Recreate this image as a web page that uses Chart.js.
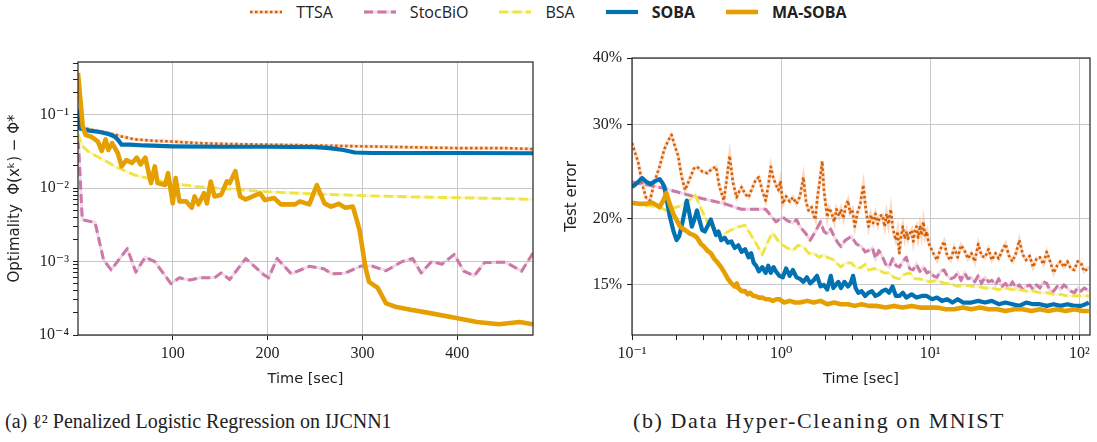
<!DOCTYPE html>
<html>
<head>
<meta charset="utf-8">
<script src="https://cdn.jsdelivr.net/npm/chart.js@4.4.1/dist/chart.umd.min.js"></script>
<style>
  body { margin: 0; background: #fff; width: 1097px; height: 442px; position: relative; overflow: hidden; }
  #c1 { position: absolute; left: 0; top: 30px; }
  #c2 { position: absolute; left: 560px; top: 30px; }
  #legend { position: absolute; top: 0; left: 0; width: 1097px; height: 24px; display: flex;
            justify-content: center; align-items: center; gap: 31px;
            font-family: "Open Sans", sans-serif; font-size: 16px; color: #222; }
  .item { display: flex; align-items: center; }
  .item canvas { margin-right: 14px; }
  .cap { position: absolute; top: 410px; font-family: "Liberation Serif", serif; font-size: 20px;
         color: #222; white-space: nowrap; }
</style>
</head>
<body>
<div id="legend"></div>
<canvas id="c1" width="550" height="362"></canvas>
<canvas id="c2" width="537" height="362"></canvas>
<div class="cap" style="left:5px">(a) ℓ² Penalized Logistic Regression on IJCNN1</div>
<div class="cap" style="left:633px;top:408px;font-size:22px;letter-spacing:1.6px">(b) Data Hyper-Cleaning on MNIST</div>
<script>
// series names, legend order
const names = ['TTSA', 'StocBiO', 'BSA', 'SOBA', 'MA-SOBA'];

// (a) IJCNN1: [time sec, optimality gap]
const ttsaA = [[1,0.078],[4,0.069],[10,0.064],[20,0.060],[30,0.057],[40,0.053],[47,0.050],[60,0.046],
  [80,0.044],[99,0.043],[125,0.041],[150,0.040],[199,0.039],[250,0.038],[299,0.037],[350,0.036],
  [400,0.035],[450,0.035],[480,0.034]];
const stocbioA = [[0,0.045],[1,0.03],[4.5,0.0037],[18,0.0034],[27,0.00105],[35,0.00077],[52,0.0015],
  [61,0.00072],[71,0.00115],[81,0.001],[98,0.0005],[107,0.0006],[118,0.00056],[129,0.0006],[144,0.0006],
  [151,0.0007],[160,0.00057],[177,0.0011],[196,0.00066],[201,0.0006],[210,0.0011],[225,0.00068],
  [244,0.00086],[259,0.0008],[268,0.00068],[281,0.00069],[299,0.00087],[310,0.00087],[325,0.00075],
  [342,0.001],[353,0.0011],[362,0.0007],[373,0.001],[384,0.00092],[397,0.00125],[407,0.00074],
  [418,0.00064],[429,0.00097],[451,0.00098],[468,0.00074],[480,0.0013]];
const bsaA = [[0,0.055],[2,0.045],[5,0.037],[10,0.032],[20,0.027],[30,0.023],[40,0.0195],[50,0.017],
  [60,0.015],[80,0.013],[100,0.0115],[125,0.0105],[150,0.0099],[200,0.0089],[250,0.0083],[300,0.0079],
  [350,0.0076],[400,0.0074],[450,0.0072],[480,0.007]];
const sobaA = [[0,0.12],[2,0.065],[10,0.061],[23,0.058],[33,0.054],[39,0.050],[43,0.044],[46,0.039],
  [55,0.039],[70,0.038],[100,0.037],[150,0.0365],[200,0.0365],[250,0.036],[265,0.035],[280,0.033],
  [292,0.0305],[310,0.030],[400,0.030],[480,0.0298]];
const masobaA = [[0,0.37],[5,0.069],[8,0.053],[14,0.05],[21,0.043],[25,0.032],[29,0.046],[32,0.033],
  [36,0.041],[42,0.030],[46,0.0197],[51,0.024],[57,0.022],[62,0.026],[66,0.021],[71,0.026],[77,0.0117],
  [81,0.0197],[84,0.0117],[92,0.011],[95,0.016],[100,0.0062],[103,0.0137],[107,0.0066],[114,0.0066],
  [120,0.0054],[123,0.0077],[127,0.006],[133,0.0085],[136,0.0062],[140,0.0123],[144,0.0077],[151,0.0081],
  [157,0.0123],[160,0.0117],[166,0.017],[171,0.0077],[177,0.007],[192,0.0085],[197,0.0069],[207,0.0073],
  [214,0.006],[229,0.006],[234,0.0066],[244,0.006],[252,0.011],[260,0.0062],[267,0.0056],[275,0.0061],
  [282,0.0054],[290,0.0056],[297,0.0027],[303,0.00086],[307,0.00053],[316,0.00044],[325,0.00027],
  [336,0.00024],[351,0.00022],[370,0.0002],[399,0.00017],[421,0.00015],[444,0.00014],[466,0.00015],
  [480,0.00014]];

// (b) MNIST: [time sec, test error %]
const ttsaB = [[0.10,27.7],[0.11,25.5],[0.118,23.0],[0.124,21.9],[0.132,21.6],[0.142,23.5],[0.153,25.0],
  [0.165,27.0],[0.175,28.0],[0.184,28.7],[0.195,27.2],[0.204,26.2],[0.215,24.0],[0.227,22.6],[0.245,23.8],
  [0.26,24.8],[0.273,25.0],[0.295,24.5],[0.32,24.3],[0.345,24.8],[0.366,25.0],[0.385,23.0],[0.413,21.6],
  [0.43,23.5],[0.452,26.2],[0.475,23.4],[0.503,21.9],[0.525,22.5],[0.544,22.9],[0.575,22.2],[0.605,21.9],
  [0.64,22.8],[0.675,23.6],[0.709,23.9],[0.75,22.5],[0.788,21.6],[0.82,23.0],[0.853,25.0],[0.88,24.0],
  [0.924,23.1],[0.96,22.6],[0.99,23.5],[1.027,21.3],[1.08,22.0],[1.142,21.5],[1.2,21.9],[1.269,21.3],
  [1.34,22.0],[1.41,23.9],[1.47,21.5],[1.527,20.7],[1.6,21.0],[1.65,20.3],[1.698,19.9],[1.75,21.8],
  [1.82,23.6],[1.887,25.6],[1.94,22.5],[2.04,20.1],[2.1,20.9],[2.18,20.5],[2.27,19.7],[2.35,20.8],
  [2.45,20.2],[2.52,20.8],[2.62,20.0],[2.7,21.0],[2.81,21.6],[2.9,20.5],[3.0,20.8],[3.12,19.3],[3.25,20.5],
  [3.4,21.3],[3.56,23.1],[3.7,20.8],[3.86,19.3],[4.0,20.3],[4.15,19.6],[4.29,20.4],[4.45,19.5],[4.6,20.2],
  [4.77,20.3],[4.95,19.3],[5.1,20.4],[5.25,19.5],[5.44,20.8],[5.6,19.3],[5.75,18.6],[5.89,18.2],[6.05,18.9],
  [6.21,17.2],[6.38,18.5],[6.55,19.3],[6.75,18.3],[6.95,18.9],[7.1,18.3],[7.28,18.7],[7.5,19.0],[7.7,18.1],
  [7.9,19.0],[8.09,19.3],[8.3,18.4],[8.55,19.4],[8.75,18.6],[9.0,19.7],[9.25,18.5],[9.5,18.9],[9.75,18.0],
  [10,17.7],[10.5,17.2],[11.1,16.7],[11.7,17.5],[12.4,18.1],[13.0,17.0],[13.7,16.7],[14.5,17.6],[15.3,16.9],
  [16.1,17.8],[17.0,17.4],[17.9,16.8],[18.9,17.2],[19.9,16.6],[21.0,17.9],[22.1,17.0],[23.3,16.9],
  [24.6,17.5],[25.9,16.7],[27.4,17.2],[28.8,16.8],[30.4,17.4],[32.0,17.9],[33.8,17.0],[35.6,16.6],
  [37.6,17.2],[39.6,18.2],[41.8,17.1],[44.0,16.7],[46.5,17.0],[49.0,16.2],[51.7,16.8],[54.5,16.9],
  [57.4,16.4],[60.5,17.3],[63.8,16.6],[67.3,15.8],[71.0,16.3],[74.8,16.6],[78.9,16.2],[83.2,16.6],
  [87.7,16.1],[92.5,16.0],[97.5,16.6],[102.6,16.5],[108,15.9],[111,16.0],[116,16.2]];
const stocbioB = [[0.100,23.4],[0.161,22.8],[0.273,21.9],[0.418,21.3],[0.54,20.8],[0.788,20.8],
  [0.924,19.7],[1.027,20.1],[1.10,19.8],[1.203,19.6],[1.27,19.9],[1.337,19.3],[1.45,18.8],[1.567,18.2],
  [1.7,18.9],[1.837,19.7],[1.94,18.9],[2.04,18.7],[2.15,19.1],[2.27,18.5],[2.4,18.0],[2.52,17.7],
  [2.7,18.2],[2.96,18.5],[3.2,17.9],[3.47,17.7],[3.66,17.3],[3.86,17.4],[4.1,17.6],[4.3,16.8],[4.52,17.4],
  [4.8,16.9],[5.03,16.4],[5.30,16.2],[5.6,16.8],[5.9,16.3],[6.21,16.2],[6.55,16.6],[6.91,16.9],[7.28,16.1],
  [7.67,16.0],[8.09,16.4],[8.53,15.9],[9.0,16.2],[9.5,15.8],[10,15.9],[10.5,15.6],[11.1,15.5],[11.7,15.9],
  [12.4,16.0],[13.0,15.6],[13.7,15.4],[14.5,15.5],[15.3,15.8],[16.1,15.3],[17.0,15.8],[17.9,15.4],
  [18.9,15.5],[19.9,15.2],[21.0,15.6],[22.1,15.1],[23.3,15.5],[24.6,15.2],[25.9,15.3],[27.4,15.0],
  [28.8,15.4],[30.4,14.9],[32.0,15.1],[33.8,14.8],[35.6,15.2],[37.6,14.8],[39.6,15.0],[41.8,14.7],
  [44.0,14.9],[46.5,15.0],[49.0,14.7],[51.7,15.0],[54.5,14.8],[57.4,15.2],[60.5,15.1],[63.8,14.6],
  [67.3,14.6],[71.0,14.9],[74.8,14.7],[78.9,15.0],[83.2,14.8],[87.7,14.6],[92.5,14.5],[97.5,14.8],
  [102.6,14.6],[108,14.8],[116,14.6]];
const bsaB = [[0.100,21.3],[0.112,21.2],[0.124,21.1],[0.135,21.1],[0.145,21.0],[0.158,20.9],[0.170,20.7],
  [0.190,20.9],[0.210,21.1],[0.240,21.6],[0.266,22.1],[0.292,20.8],[0.320,19.7],[0.355,19.1],[0.396,18.6],
  [0.460,19.0],[0.520,19.3],[0.574,19.4],[0.660,18.2],[0.748,17.1],[0.810,18.0],[0.876,18.8],[0.950,18.2],
  [1.027,17.8],[1.10,17.6],[1.203,17.4],[1.30,17.8],[1.41,17.7],[1.53,17.2],[1.653,17.2],[1.80,16.9],
  [1.94,17.1],[2.04,16.9],[2.27,16.7],[2.40,16.4],[2.52,16.2],[2.70,16.5],[2.96,16.5],[3.20,16.1],
  [3.47,16.2],[3.66,16.4],[3.86,16.0],[4.20,16.1],[4.52,16.0],[4.90,15.8],[5.30,15.8],[5.70,15.5],
  [6.21,15.4],[6.70,15.7],[7.28,15.8],[7.90,15.4],[8.53,15.4],[9.20,15.3],[10.0,15.2],[11.1,15.3],
  [12.4,15.1],[13.7,15.1],[15.3,14.9],[17.0,15.0],[18.9,14.9],[21.0,14.9],[23.3,14.8],[25.9,14.8],
  [28.8,14.7],[32.0,14.8],[35.6,14.7],[39.6,14.7],[44.0,14.6],[49.0,14.6],[54.5,14.5],[60.5,14.5],
  [67.3,14.4],[74.8,14.4],[83.2,14.3],[92.5,14.3],[102.6,14.3],[116,14.3]];
const sobaB = [[0.100,22.9],[0.108,23.3],[0.117,23.8],[0.125,23.4],[0.134,23.2],[0.143,23.5],[0.153,23.7],
  [0.160,23.3],[0.165,22.9],[0.172,21.5],[0.179,20.2],[0.190,18.9],[0.199,18.2],[0.207,18.5],[0.215,19.3],
  [0.224,20.4],[0.233,21.6],[0.242,20.5],[0.252,19.3],[0.262,19.9],[0.273,20.7],[0.284,19.8],[0.296,19.0],
  [0.308,18.9],[0.320,19.3],[0.338,19.9],[0.352,19.2],[0.366,18.6],[0.380,18.9],[0.396,18.2],[0.418,18.4],
  [0.440,18.0],[0.464,18.1],[0.489,17.6],[0.516,17.8],[0.544,17.3],[0.574,17.5],[0.605,16.9],[0.630,17.2],
  [0.655,16.5],[0.680,16.3],[0.709,15.9],[0.748,16.2],[0.788,15.8],[0.820,16.3],[0.853,15.8],[0.890,16.2],
  [0.924,15.9],[0.975,15.6],[1.027,15.5],[1.08,16.1],[1.142,15.6],[1.20,16.0],[1.269,15.5],[1.34,15.4],
  [1.41,15.2],[1.49,15.5],[1.567,15.1],[1.65,15.3],[1.742,15.6],[1.84,14.9],[1.937,15.0],[2.04,14.7],
  [2.154,15.6],[2.24,14.8],[2.33,15.0],[2.42,15.2],[2.52,14.8],[2.66,15.2],[2.81,14.9],[2.92,15.1],
  [3.04,15.6],[3.16,14.8],[3.29,14.5],[3.47,14.6],[3.66,14.3],[3.86,14.5],[4.07,14.6],[4.29,14.3],
  [4.52,14.4],[4.77,14.6],[5.03,14.7],[5.30,14.5],[5.59,14.9],[5.89,14.3],[6.21,14.3],[6.55,14.5],
  [6.91,14.2],[7.50,14.4],[8.09,14.2],[8.80,14.3],[9.48,14.3],[10.3,14.1],[11.1,14.2],[12.0,14.0],
  [13.0,14.1],[14.1,13.9],[15.3,14.1],[16.6,13.9],[18.9,13.9],[21.0,14.0],[23.3,13.9],[25.9,14.0],
  [28.8,13.8],[32.0,13.9],[35.6,13.8],[39.6,13.7],[44.0,13.9],[49.0,13.8],[54.5,13.8],[60.5,13.7],
  [67.3,13.8],[74.8,13.7],[83.2,13.8],[92.5,13.7],[102.6,13.7],[110,13.8],[116,13.9]];
const masobaB = [[0.100,21.4],[0.112,21.3],[0.124,21.3],[0.137,21.4],[0.145,21.2],[0.153,21.0],[0.162,21.6],
  [0.170,22.3],[0.180,21.2],[0.189,20.4],[0.200,19.8],[0.210,19.3],[0.228,19.0],[0.246,18.7],[0.260,18.6],
  [0.273,18.4],[0.290,17.9],[0.304,17.7],[0.320,17.4],[0.338,17.2],[0.356,16.8],[0.376,16.5],[0.396,16.2],
  [0.418,15.8],[0.440,15.4],[0.464,15.1],[0.489,14.9],[0.505,15.1],[0.516,14.8],[0.544,14.6],[0.574,14.6],
  [0.598,14.4],[0.621,14.5],[0.650,14.3],[0.673,14.3],[0.710,14.2],[0.748,14.2],[0.790,14.1],[0.831,14.1],
  [0.880,14.0],[0.930,14.1],[0.974,14.1],[1.05,13.9],[1.142,14.0],[1.24,13.9],[1.337,13.9],[1.50,14.0],
  [1.653,13.9],[1.84,14.0],[2.04,13.8],[2.27,13.9],[2.52,13.8],[2.81,13.8],[3.12,13.7],[3.47,13.8],
  [3.86,13.7],[4.40,13.7],[5.03,13.6],[5.70,13.7],[6.55,13.6],[7.50,13.7],[8.53,13.6],[9.70,13.6],
  [11.1,13.6],[12.7,13.5],[14.5,13.5],[16.6,13.6],[18.9,13.5],[21.6,13.6],[24.6,13.5],[28.2,13.5],
  [32.0,13.4],[36.7,13.5],[41.8,13.5],[47.7,13.4],[54.5,13.5],[62.2,13.4],[71.0,13.5],[81.0,13.4],
  [92.5,13.5],[105,13.4],[116,13.4]];

// tick values
const ticksAx = [100, 200, 300, 400];
const ticksAy = [1e-4, 1e-3, 1e-2, 1e-1];
const ticksBx = [0.1, 1, 10, 100];
const ticksBy = [15, 20, 30, 40];
const ticksByLabels = ['15%', '20%', '30%', '40%'];

const ink = '#222';
const gridCol = '#c8c8c8';
const serif = '"Liberation Serif", "DejaVu Serif", serif';
const sans = '"DejaVu Sans", sans-serif';

const styles = [
  { color: '#d55e00', width: 2.6, dash: [2.4, 2.6], halo: 'rgba(240,165,120,0.4)', haloW: 3.4, order: 4 },
  { color: '#cc79a7', width: 3, dash: [9, 4.5], halo: 'rgba(214,150,190,0.35)', haloW: 3, order: 3 },
  { color: '#f0e442', width: 2.8, dash: [9, 4.5], halo: 'rgba(240,228,66,0.3)', haloW: 2.8, order: 2 },
  { color: '#0072b2', width: 4.2, dash: [], order: 1 },
  { color: '#e69f00', width: 4.6, dash: [], order: 0 },
];

Chart.defaults.font.family = sans;
Chart.defaults.color = ink;

const supMap = { '-': '⁻', '0': '⁰', '1': '¹', '2': '²', '3': '³', '4': '⁴' };
function isDecade(v) { const l = Math.log10(v); return Math.abs(l - Math.round(l)) < 1e-6; }
function powLabel(v) {
  if (!isDecade(v)) return '';
  return '10' + String(Math.round(Math.log10(v))).split('').map(c => supMap[c]).join('');
}
function withMinors(majors, max) {
  const out = [];
  majors.forEach(m => { for (let k = 1; k <= 9; k++) { const v = m * k; if (v <= max * 1.0001) out.push(v); } });
  return out;
}

function makeDatasets(series) {
  const sets = [];
  series.forEach((pts, i) => {
    const st = styles[i];
    const data = pts.map(p => ({ x: p[0], y: p[1] }));
    if (st.halo) {
      sets.push({ data, borderColor: st.halo, borderWidth: st.haloW, pointRadius: 0, tension: 0,
                  order: st.order + 0.5, clip: 0 });
    }
    sets.push({ label: names[i], data, borderColor: st.color, borderWidth: st.width, borderDash: st.dash,
                borderCapStyle: 'butt', borderJoinStyle: 'round', pointRadius: 0, tension: 0,
                order: st.order, clip: 0 });
  });
  return sets;
}

const frame = {
  id: 'frame',
  afterDatasetsDraw(chart) {
    const { ctx, chartArea: a } = chart;
    ctx.save();
    ctx.strokeStyle = ink;
    ctx.lineWidth = 1.2;
    ctx.strokeRect(a.left, a.top, a.right - a.left, a.bottom - a.top);
    ctx.restore();
  }
};

function gridOpts(majorTest) {
  return {
    color: c => (c.tick && majorTest(c.tick.value)) ? gridCol : 'rgba(0,0,0,0)',
    lineWidth: 1,
    tickColor: ink,
    tickLength: 5,
    drawTicks: true,
  };
}

function fixX(h) { return s => { s.height = h; s.paddingLeft = 0; s.paddingRight = 0; }; }
function fixY(w) { return s => { s.width = w; s.paddingTop = 0; s.paddingBottom = 0; }; }

// (a)
new Chart(document.getElementById('c1'), {
  type: 'line',
  data: { datasets: makeDatasets([ttsaA, stocbioA, bsaA, sobaA, masobaA]) },
  options: {
    responsive: false, animation: false, devicePixelRatio: 1,
    layout: { padding: { left: 0, top: 32, right: 17, bottom: 0 } },
    plugins: { legend: { display: false }, tooltip: { enabled: false } },
    scales: {
      x: {
        type: 'linear', min: 0, max: 480,
        afterBuildTicks: s => { s.ticks = ticksAx.map(v => ({ value: v })); },
        afterFit: fixX(57),
        grid: gridOpts(() => true),
        border: { display: false },
        ticks: { autoSkip: false, maxRotation: 0, padding: 4, font: { family: serif, size: 16 }, color: ink },
        title: { display: true, text: 'Time [sec]', font: { size: 14.5 }, padding: { top: 0, bottom: 4 } },
      },
      y: {
        type: 'logarithmic', min: 1e-4, max: 0.52,
        afterBuildTicks: s => { s.ticks = withMinors(ticksAy, 0.52).map(v => ({ value: v })); },
        afterFit: fixY(78),
        grid: gridOpts(isDecade),
        border: { display: false },
        ticks: { autoSkip: false, padding: 4, callback: v => powLabel(v), font: { family: serif, size: 16 }, color: ink },
        title: { display: true, text: 'Optimality  Φ(xᵏ) − Φ*', font: { size: 15 }, padding: { top: 6, bottom: 0 } },
      },
    },
  },
  plugins: [frame],
});

// (b)
new Chart(document.getElementById('c2'), {
  type: 'line',
  data: { datasets: makeDatasets([ttsaB, stocbioB, bsaB, sobaB, masobaB]) },
  options: {
    responsive: false, animation: false, devicePixelRatio: 1,
    layout: { padding: { left: 0, top: 28, right: 7, bottom: 0 } },
    plugins: { legend: { display: false }, tooltip: { enabled: false } },
    scales: {
      x: {
        type: 'logarithmic', min: 0.1, max: 118,
        afterBuildTicks: s => { s.ticks = withMinors(ticksBx, 118).map(v => ({ value: v })); },
        afterFit: fixX(57),
        grid: gridOpts(isDecade),
        border: { display: false },
        ticks: { autoSkip: false, maxRotation: 0, minRotation: 0, padding: 4, callback: v => powLabel(v),
                 font: { family: serif, size: 16 }, color: ink },
        title: { display: true, text: 'Time [sec]', font: { size: 14.5 }, padding: { top: 0, bottom: 4 } },
      },
      y: {
        type: 'logarithmic', min: 12.08, max: 40,
        afterBuildTicks: s => { s.ticks = ticksBy.map(v => ({ value: v })); },
        afterFit: fixY(72),
        grid: gridOpts(() => true),
        border: { display: false },
        ticks: { autoSkip: false, padding: 5,
                 callback: v => { const i = ticksBy.indexOf(v); return i >= 0 ? ticksByLabels[i] : ''; },
                 font: { family: serif, size: 16 }, color: ink },
        title: { display: true, text: 'Test error', font: { size: 15 }, padding: { top: 3, bottom: 0 } },
      },
    },
  },
  plugins: [frame],
});

// shared legend
const legend = document.getElementById('legend');
names.forEach((n, i) => {
  const st = styles[i];
  const item = document.createElement('div');
  item.className = 'item';
  const sw = document.createElement('canvas');
  sw.width = 32; sw.height = 10;
  const g = sw.getContext('2d');
  if (st.halo) {
    g.strokeStyle = st.halo; g.lineWidth = st.haloW;
    g.beginPath(); g.moveTo(0, 5); g.lineTo(32, 5); g.stroke();
  }
  g.strokeStyle = st.color; g.lineWidth = st.width; g.setLineDash(st.dash);
  g.beginPath(); g.moveTo(0, 5); g.lineTo(32, 5); g.stroke();
  const txt = document.createElement('span');
  txt.textContent = n;
  if (i >= 3) txt.style.fontWeight = 'bold';
  item.appendChild(sw); item.appendChild(txt);
  legend.appendChild(item);
});
</script>
</body>
</html>
